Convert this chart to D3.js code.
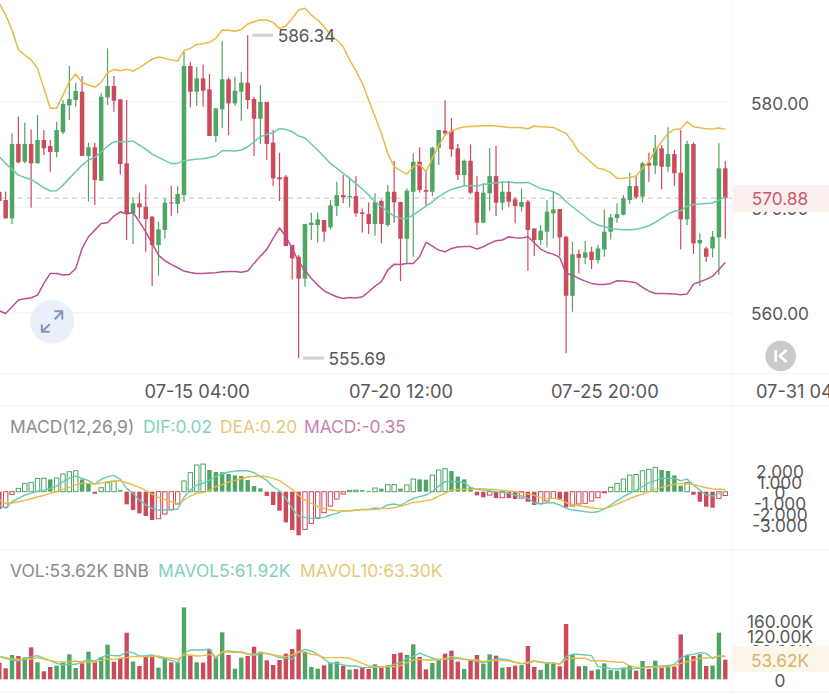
<!DOCTYPE html>
<html>
<head>
<meta charset="utf-8">
<script src="https://cdn.jsdelivr.net/npm/d3@7/dist/d3.min.js"></script>
<style>
  html, body { margin: 0; padding: 0; background: #fff; overflow: hidden; }
  svg { display: block; font-family: Inter, "Noto Sans", sans-serif; }
</style>
</head>
<body>
<svg id="chart" width="829" height="694"></svg>
<script>
// BNB/USDT 4h candles, 2024-07-10 00:00 onward
const opens = [
  571.48,570.70,568.95,576.02,574.33,576.02,574.18,576.39,575.82,575.25,
  577.12,579.68,580.19,580.98,574.87,575.70,572.53,580.44,581.52,580.25,
  574.18,569.43,570.38,570.06,569.11,566.42,567.85,570.47,570.32,571.17,
  583.42,580.98,582.24,581.20,576.77,579.30,582.15,579.87,580.98,581.83,
  580.28,578.41,580.00,576.14,572.85,572.91,566.42,565.31,563.23,568.32,
  568.32,568.80,568.10,570.12,571.17,570.95,571.07,569.52,569.36,568.42,
  570.60,568.32,571.48,570.51,567.02,571.48,574.33,571.64,571.48,575.66,
  577.28,577.25,575.60,573.07,574.42,571.48,568.54,571.33,572.97,570.44,
  571.48,570.76,570.06,570.54,568.00,566.90,567.69,569.43,569.84,567.21,
  561.61,565.57,565.22,565.79,565.00,566.01,567.69,568.99,569.30,570.70,
  572.02,571.01,574.24,573.96,575.60,573.86,575.06,573.29,568.86,576.02,
  566.58,566.10,566.10,567.15,573.70];
const highs = [
  571.48,571.48,577.03,578.60,578.03,577.40,578.76,577.34,576.39,578.13,
  580.19,583.42,581.83,582.47,576.14,576.14,580.82,585.09,582.47,580.25,
  580.19,570.95,571.39,572.18,569.18,568.64,570.86,572.05,572.02,584.78,
  583.83,583.35,583.57,582.66,579.40,585.79,582.34,582.40,582.88,586.34,
  580.50,581.61,580.00,577.34,575.19,573.07,566.42,565.47,568.42,569.49,
  569.52,568.80,570.70,572.43,573.07,572.91,572.97,569.90,570.47,571.33,
  570.76,572.12,574.39,570.54,571.80,575.13,575.70,573.54,575.76,577.34,
  580.19,578.45,576.02,574.55,575.98,572.97,572.28,575.60,575.82,572.43,
  572.53,570.95,571.80,570.70,568.00,568.32,570.70,571.48,569.84,567.28,
  566.74,566.01,566.83,566.26,566.42,569.81,569.36,570.38,571.17,573.29,
  572.91,574.33,575.19,576.87,575.92,577.60,575.44,577.34,576.33,576.17,
  567.53,566.26,567.75,576.08,574.39];
const lows = [
  570.50,568.95,568.41,574.18,574.18,569.97,574.18,574.97,573.38,574.75,
  576.96,578.29,579.55,574.87,570.54,570.22,572.53,579.71,579.08,573.13,
  566.90,566.52,568.95,565.79,562.53,563.51,567.02,569.21,569.43,570.54,
  579.49,579.65,579.55,576.77,576.17,577.50,576.87,579.62,578.22,579.33,
  574.87,576.02,574.49,572.03,570.60,566.32,563.16,555.69,562.47,566.90,
  566.67,566.74,567.91,569.17,570.38,570.00,569.11,567.62,567.47,567.31,
  566.58,568.16,568.54,563.00,564.68,565.31,571.39,570.13,571.07,574.02,
  576.77,574.81,572.59,572.02,571.26,567.37,568.48,569.68,569.18,569.75,
  570.00,568.48,569.59,563.99,565.38,566.42,566.20,567.05,565.38,556.14,
  560.09,563.73,564.62,564.15,564.68,565.31,566.96,568.54,569.24,570.32,
  570.79,570.47,572.43,573.16,571.71,573.38,572.05,566.01,568.32,565.57,
  562.53,564.84,565.25,563.57,567.05];
const closes = [
  570.60,568.95,576.02,574.27,576.02,574.18,576.39,575.60,575.25,577.34,
  579.81,580.28,581.04,574.87,575.70,572.59,580.50,581.52,580.12,574.11,
  569.43,570.38,570.00,568.89,566.42,567.91,570.44,570.38,571.26,583.42,
  580.98,582.24,581.07,576.77,579.40,582.15,579.87,581.07,581.83,580.19,
  578.41,580.00,576.02,572.75,572.66,566.32,565.15,563.23,568.42,568.54,
  568.86,567.69,570.18,571.17,570.95,571.07,569.43,569.36,568.42,570.51,
  568.42,571.48,570.47,567.02,571.58,574.33,571.64,571.48,575.66,577.34,
  577.03,575.50,573.07,574.42,571.39,568.54,571.39,572.97,570.44,571.48,
  570.54,570.12,570.51,567.85,566.90,567.78,569.59,569.81,567.15,561.61,
  565.54,565.22,565.73,565.00,566.10,567.69,569.05,569.36,570.86,572.02,
  570.95,574.18,573.96,575.60,573.86,575.06,573.23,568.86,576.02,566.58,
  566.90,565.31,567.21,573.70,570.88];

// Bollinger bands
const bollUpper = [
  589.36,588.26,586.83,584.94,584.46,583.99,583.19,581.30,579.40,579.40,
  580.66,581.93,582.66,581.86,581.61,581.42,581.86,582.78,583.10,582.97,
  583.10,582.94,583.26,583.67,584.08,584.27,584.14,583.99,583.89,584.87,
  585.09,585.47,585.53,585.66,586.04,586.83,586.80,586.71,586.89,587.40,
  587.62,587.81,587.78,587.53,586.99,587.21,587.94,588.73,588.89,588.26,
  587.78,587.15,586.36,585.88,585.25,583.99,582.97,581.77,580.19,578.60,
  577.02,575.12,573.86,573.48,573.16,573.86,574.08,573.38,574.65,575.91,
  576.86,577.24,577.49,577.65,577.68,577.72,577.75,577.78,577.72,577.65,
  577.59,577.59,577.56,577.46,577.72,577.65,577.62,577.59,577.27,577.02,
  576.23,575.28,574.80,574.23,573.70,573.60,573.29,572.75,572.75,572.84,
  572.97,573.70,574.33,575.44,576.23,577.02,577.40,577.46,578.13,577.65,
  577.56,577.46,577.43,577.53,577.40];
const bollMid = [
  574.81,574.17,573.60,573.06,572.84,572.65,572.27,571.86,571.55,571.58,
  572.11,572.75,573.38,574.01,574.49,574.74,575.28,575.82,576.23,576.23,
  576.23,576.29,575.91,575.53,575.06,574.74,574.43,574.17,574.17,574.43,
  574.49,574.58,574.61,574.74,574.87,575.37,575.37,575.34,575.44,575.75,
  576.23,576.70,576.93,577.08,577.49,577.40,577.18,576.77,576.61,576.01,
  575.44,574.81,574.17,573.70,573.22,572.75,572.27,571.74,571.17,570.53,
  570.06,569.58,569.17,568.95,568.95,569.27,569.68,570.12,570.53,571.01,
  571.39,571.70,571.89,572.02,572.08,572.02,572.18,572.27,572.30,572.40,
  572.40,572.34,572.34,572.37,572.08,571.77,571.64,571.48,571.17,570.53,
  570.06,569.58,569.11,568.63,568.32,568.16,568.00,567.91,567.87,567.87,
  567.91,568.06,568.25,568.57,568.95,569.36,569.65,569.68,570.12,570.28,
  570.31,570.37,570.41,570.69,571.01];
const bollLower = [
  560.18,559.93,560.56,561.20,561.32,561.42,561.67,562.78,563.73,563.73,
  563.57,563.63,564.20,566.10,567.21,567.84,568.47,568.54,569.17,569.58,
  569.36,569.52,568.63,567.68,566.58,565.47,564.93,564.58,564.27,563.95,
  563.82,563.73,563.73,563.76,563.79,563.89,563.92,563.92,563.85,563.95,
  564.68,565.37,566.01,567.05,568.06,567.21,566.10,564.84,564.04,563.25,
  562.62,562.08,561.77,561.51,561.35,561.45,561.39,561.51,561.99,562.52,
  562.94,564.04,564.61,564.58,564.68,564.68,565.31,566.67,566.32,565.94,
  565.78,566.10,566.23,566.29,566.29,566.04,566.26,566.58,566.83,566.90,
  567.21,567.11,567.08,567.21,566.64,566.04,565.72,565.56,565.25,563.73,
  563.57,563.25,563.00,562.78,562.68,562.68,562.78,563.03,563.00,562.94,
  562.84,562.40,562.05,561.83,561.83,561.80,561.77,561.70,561.77,562.71,
  562.94,563.16,563.47,564.11,564.77];

// MACD(12,26,9)
const macdHist = [
  -1.60,-1.45,-0.25,0.31,0.77,0.86,1.23,1.25,1.14,1.27,
  1.64,1.85,1.94,1.14,0.71,-0.19,0.37,0.83,0.96,0.15,
  -1.17,-1.70,-2.01,-2.25,-2.62,-2.50,-2.07,-1.64,-1.14,0.99,
  1.76,2.47,2.56,2.01,1.82,1.80,1.64,1.51,1.45,1.08,
  0.52,0.31,-0.40,-1.23,-1.76,-2.84,-3.55,-4.04,-3.49,-2.93,
  -2.47,-1.94,-1.33,-0.68,-0.22,0.12,0.15,0.15,0.06,0.34,
  0.28,0.65,0.66,0.28,0.62,1.17,1.14,1.11,1.54,2.01,
  2.13,1.91,1.39,1.14,0.40,-0.34,-0.52,-0.31,-0.59,-0.56,
  -0.59,-0.68,-0.59,-0.93,-1.23,-1.08,-0.86,-0.62,-0.71,-1.45,
  -1.33,-1.14,-1.08,-0.86,-0.56,-0.09,0.40,0.77,1.17,1.54,
  1.60,1.94,2.07,2.25,2.01,1.91,1.51,0.56,0.86,-0.28,
  -0.93,-1.39,-1.48,-0.62,-0.35];
const macdDif = [
  -1.23,-1.54,-0.93,-0.62,-0.31,-0.15,0.06,0.15,0.31,0.52,
  0.93,1.23,1.45,1.23,1.02,0.71,1.14,1.39,1.51,1.14,
  0.31,-0.15,-0.77,-1.23,-1.54,-1.70,-1.70,-1.70,-1.60,-0.52,
  0.15,0.62,0.77,1.08,1.39,1.64,1.82,1.91,1.94,1.94,
  1.76,1.39,1.08,0.46,0.09,-0.62,-1.54,-2.25,-2.38,-2.47,
  -2.41,-2.38,-2.16,-2.01,-1.76,-1.76,-1.70,-1.64,-1.64,-1.51,
  -1.54,-1.23,-1.14,-1.27,-0.93,-0.62,-0.46,-0.31,0.00,0.52,
  0.93,0.93,0.93,0.83,0.40,0.22,0.15,0.09,0.00,-0.09,
  -0.15,-0.31,-0.40,-0.62,-1.02,-1.14,-1.02,-1.02,-1.23,-1.54,
  -1.70,-1.76,-1.85,-1.91,-1.85,-1.60,-1.23,-0.83,-0.46,-0.15,
  0.15,0.46,0.83,1.02,1.23,1.23,1.23,1.02,1.17,0.62,
  0.15,-0.31,-0.40,-0.15,0.02];
const macdDea = [
  -0.77,-1.08,-1.05,-0.93,-0.80,-0.65,-0.49,-0.34,-0.15,0.03,
  0.22,0.40,0.65,0.77,0.77,0.71,0.80,0.93,0.99,1.02,
  0.83,0.62,0.40,0.09,-0.22,-0.52,-0.74,-0.93,-1.08,-0.77,
  -0.40,-0.15,-0.09,0.15,0.46,0.65,0.89,1.05,1.20,1.36,
  1.42,1.45,1.39,1.23,1.02,0.62,0.22,-0.34,-0.77,-1.08,
  -1.39,-1.54,-1.70,-1.76,-1.79,-1.76,-1.73,-1.67,-1.67,-1.64,
  -1.57,-1.54,-1.48,-1.36,-1.17,-0.99,-0.93,-0.83,-0.71,-0.40,
  -0.15,0.15,0.22,0.22,0.22,0.28,0.28,0.22,0.19,0.12,
  0.06,0.00,-0.09,-0.22,-0.34,-0.52,-0.62,-0.62,-0.71,-1.02,
  -1.17,-1.30,-1.39,-1.48,-1.57,-1.57,-1.39,-1.14,-0.89,-0.65,
  -0.40,-0.22,0.00,0.22,0.40,0.56,0.68,0.77,0.74,0.65,
  0.52,0.37,0.25,0.22,0.20];

// Volume, thousands of BNB
const volume = [
  45.5,30.0,66.4,63.6,60.0,87.3,46.4,21.8,33.6,37.3,
  46.4,68.2,30.9,43.6,75.4,48.2,60.0,94.5,48.2,57.3,
  127.3,48.2,36.4,63.6,63.6,31.8,59.1,46.4,45.5,196.4,
  63.6,46.4,45.5,81.8,60.0,128.2,66.4,29.1,59.1,63.6,
  89.1,75.4,51.8,39.1,52.7,70.0,82.7,136.4,73.6,33.6,
  29.1,38.2,45.5,48.2,36.4,26.4,28.2,31.8,28.2,40.9,
  31.8,38.2,69.1,72.7,66.4,95.5,60.9,27.3,44.5,52.7,
  70.0,78.2,48.2,28.2,52.7,66.4,42.7,68.2,64.5,31.8,
  33.6,37.3,39.1,90.9,33.6,25.5,43.6,42.7,35.5,150.9,
  66.4,35.5,36.4,23.6,27.3,43.6,25.5,23.6,31.8,37.3,
  23.6,50.0,28.2,50.9,31.8,39.1,34.5,122.7,66.4,63.6,
  68.2,36.4,37.3,127.3,53.62];
const mavol5 = [
  61.8,57.3,52.7,50.0,57.3,61.8,64.5,57.3,50.9,43.6,
  39.1,40.9,40.9,48.2,52.7,50.0,60.0,66.4,64.5,64.5,
  74.5,72.7,63.6,64.5,66.4,60.0,55.5,51.8,46.4,70.9,
  80.0,80.0,80.0,82.7,57.3,74.5,77.3,75.4,73.6,69.1,
  64.5,70.0,70.9,66.4,59.1,57.3,55.5,75.4,81.8,77.3,
  68.2,55.5,43.6,43.6,39.1,36.4,36.4,31.8,31.8,32.7,
  34.5,34.5,40.9,45.5,57.3,61.8,71.8,64.5,57.3,54.5,
  54.5,55.5,57.3,54.5,52.7,48.2,45.5,50.0,55.5,55.5,
  52.7,46.4,42.7,43.6,50.0,46.4,44.5,45.5,40.9,61.8,
  68.2,68.2,66.4,64.5,34.5,31.8,29.1,28.2,30.0,28.2,
  29.1,31.8,34.5,34.5,36.4,37.3,40.9,57.3,66.4,68.2,
  72.7,70.9,57.3,63.6,61.92];
const mavol10 = [
  63.6,59.1,55.5,54.5,55.5,55.5,59.1,55.5,50.9,48.2,
  46.4,48.2,50.0,46.4,46.4,46.4,51.8,55.5,54.5,57.3,
  59.1,61.8,61.8,61.8,61.8,63.6,60.0,57.3,54.5,66.4,
  66.4,63.6,64.5,68.2,60.9,74.5,75.4,72.7,75.4,69.1,
  68.2,72.7,70.9,66.4,63.6,61.8,66.4,75.4,75.4,68.2,
  66.4,59.1,59.1,59.1,59.1,57.3,50.9,43.6,36.4,34.5,
  34.5,34.5,34.5,37.3,45.5,52.7,54.5,52.7,52.7,52.7,
  57.3,61.8,59.1,55.5,52.7,52.7,48.2,51.8,50.9,50.9,
  50.0,46.4,42.7,46.4,50.0,46.4,45.5,45.5,40.9,54.5,
  57.3,57.3,57.3,50.0,50.9,50.0,48.2,46.4,46.4,36.4,
  32.7,31.8,31.8,33.6,33.6,34.5,36.4,43.6,48.2,52.7,
  57.3,58.2,59.1,63.6,63.30];

// Axis ticks
const timeTicks = ["2024-07-15T04:00Z", "2024-07-20T12:00Z", "2024-07-25T20:00Z", "2024-07-31T04:00Z"];
const priceTicks = [560, 570, 580];
const macdTicks = [2, 1, 0, -1, -2, -3];
const volumeTicks = [0, 40, 80, 120, 160];

const FOUR_HOURS = 4 * 3600 * 1000;
const firstCandle = Date.UTC(2024, 6, 10, 0, 0);
const candleTimes = opens.map((_, i) => new Date(firstCandle + i * FOUR_HOURS));

const UP = "#4fa564", DOWN = "#cb4b5d";
const TEAL = "#6bc9b1", GOLD = "#e8bb45", PURPLE = "#b9528f";
const INK = "#585858";
const PLOT_RIGHT = 732, AXIS_X = 780;
const colorOf = i => closes[i] >= opens[i] ? UP : DOWN;

const svg = d3.select("#chart");

const x = d3.scaleUtc()
  .domain([candleTimes[0], candleTimes[candleTimes.length - 1]])
  .range([-0.7, 725.3]);
const yPrice = d3.scaleLinear().domain([560, 580]).range([312.7, 102]);
const yMacd = d3.scaleLinear().domain([-3, 2]).range([524.1, 470.1]);
const yVol = d3.scaleLinear().domain([0, 160]).range([679.3, 620.7]);

svg.append("clipPath").attr("id", "plot")
  .append("rect").attr("x", 0).attr("y", 0).attr("width", PLOT_RIGHT).attr("height", 694);

// Panel frame and grid
const frame = svg.append("g").attr("stroke", "#f3f3f3").attr("stroke-width", 1);
[373.5, 406, 549.5, 692].forEach(y =>
  frame.append("line").attr("x1", 0).attr("x2", 829).attr("y1", y).attr("y2", y));
frame.append("line").attr("x1", PLOT_RIGHT).attr("x2", PLOT_RIGHT).attr("y1", 0).attr("y2", 694);
priceTicks.forEach(v =>
  frame.append("line").attr("x1", 0).attr("x2", PLOT_RIGHT)
    .attr("y1", yPrice(v)).attr("y2", yPrice(v)));

const plot = svg.append("g").attr("clip-path", "url(#plot)");

// Last price guide
plot.append("line")
  .attr("x1", 0).attr("x2", PLOT_RIGHT)
  .attr("y1", yPrice(closes[closes.length - 1])).attr("y2", yPrice(closes[closes.length - 1]))
  .attr("stroke", "#cfcfcf").attr("stroke-width", 1.2).attr("stroke-dasharray", "5,4");

// Candles
const BODY = 4.5;
const candles = plot.append("g").selectAll("g").data(opens).join("g")
  .attr("fill", (_, i) => colorOf(i)).attr("stroke", (_, i) => colorOf(i));
candles.append("line")
  .attr("x1", (_, i) => x(candleTimes[i])).attr("x2", (_, i) => x(candleTimes[i]))
  .attr("y1", (_, i) => yPrice(highs[i])).attr("y2", (_, i) => yPrice(lows[i]))
  .attr("stroke-width", 1.2);
candles.append("rect")
  .attr("stroke", "none")
  .attr("x", (_, i) => x(candleTimes[i]) - BODY / 2).attr("width", BODY)
  .attr("y", (d, i) => yPrice(Math.max(d, closes[i])))
  .attr("height", (d, i) => Math.max(1, Math.abs(yPrice(d) - yPrice(closes[i]))));

// Overlays
function drawLine(layer, values, yScale, color, width) {
  layer.append("path")
    .attr("fill", "none").attr("stroke", color).attr("stroke-width", width)
    .attr("stroke-linejoin", "round")
    .attr("d", d3.line().x((_, i) => x(candleTimes[i])).y(d => yScale(d))(values));
}
drawLine(plot, bollUpper, yPrice, GOLD, 1.5);
drawLine(plot, bollMid, yPrice, TEAL, 1.5);
drawLine(plot, bollLower, yPrice, PURPLE, 1.5);

// MACD histogram: hollow while rising, solid while falling
const histWidth = 4.4;
const histColor = d => d >= 0 ? UP : DOWN;
plot.append("g").selectAll("rect").data(macdHist).join("rect")
  .attr("x", (_, i) => x(candleTimes[i]) - histWidth / 2)
  .attr("width", histWidth)
  .attr("y", d => Math.min(yMacd(d), yMacd(0)))
  .attr("height", d => Math.max(1, Math.abs(yMacd(d) - yMacd(0))))
  .attr("fill", (d, i) => i > 0 && d > macdHist[i - 1] ? "#fff" : histColor(d))
  .attr("stroke", (d, i) => i > 0 && d > macdHist[i - 1] ? histColor(d) : "none")
  .attr("stroke-width", 1);
drawLine(plot, macdDif, yMacd, TEAL, 1.4);
drawLine(plot, macdDea, yMacd, GOLD, 1.4);

// Volume
const volWidth = 4.4;
plot.append("g").selectAll("rect").data(volume).join("rect")
  .attr("x", (_, i) => x(candleTimes[i]) - volWidth / 2)
  .attr("width", volWidth)
  .attr("y", d => yVol(d))
  .attr("height", d => yVol(0) - yVol(d))
  .attr("fill", (_, i) => colorOf(i));
drawLine(plot, mavol5, yVol, TEAL, 1.4);
drawLine(plot, mavol10, yVol, GOLD, 1.4);

// Value axes
function drawAxis(scale, ticks, format) {
  const g = svg.append("g").attr("transform", `translate(${AXIS_X},0)`)
    .call(d3.axisRight(scale).tickValues(ticks).tickFormat(format).tickSize(0).tickPadding(0));
  g.select(".domain").remove();
  g.selectAll("text")
    .attr("text-anchor", "middle")
    .attr("dy", "0.42em")
    .attr("fill", INK)
    .attr("font-family", "Inter, sans-serif")
    .attr("font-size", 17.3);
}
drawAxis(yPrice, priceTicks, d3.format(".2f"));
drawAxis(yMacd, macdTicks, v => v === 0 ? "0" : d3.format(".3f")(v).replace("\u2212", "-"));
drawAxis(yVol, volumeTicks, v => v === 0 ? "0" : d3.format(".2f")(v) + "K");

// Time axis
const timeAxis = svg.append("g").attr("transform", "translate(0,392)")
  .call(d3.axisBottom(x)
    .tickValues(timeTicks.map(d => new Date(d)))
    .tickFormat(d3.utcFormat("%m-%d %H:%M"))
    .tickSize(0).tickPadding(0));
timeAxis.select(".domain").remove();
timeAxis.selectAll("text")
  .attr("dy", "0.34em").attr("y", 0)
  .attr("fill", INK)
  .attr("font-family", "Inter, sans-serif")
  .attr("font-size", 18.3);

// Current value tags
function valueTag(y, top, bottom, bg, color, label) {
  svg.append("rect").attr("x", PLOT_RIGHT + 0.5).attr("y", top)
    .attr("width", 829 - PLOT_RIGHT).attr("height", bottom - top).attr("fill", bg);
  svg.append("text").attr("x", AXIS_X).attr("y", y).attr("dy", "0.42em")
    .attr("text-anchor", "middle").attr("font-size", 17.3).attr("fill", color).text(label);
}
const lastPrice = closes[closes.length - 1];
const lastVolume = volume[volume.length - 1];
valueTag(yPrice(lastPrice), 185, 212, "#fbf0ee", "#c95a6c", d3.format(".2f")(lastPrice));
valueTag(yVol(lastVolume), 646, 672, "#fcf5ea", "#d8b46e", d3.format(".2f")(lastVolume) + "K");

// High and low markers
function extremeMark(i, value) {
  const px = x(candleTimes[i]), py = yPrice(value);
  svg.append("line").attr("x1", px + 4.5).attr("x2", px + 25.5).attr("y1", py).attr("y2", py)
    .attr("stroke", "#d0d0d0").attr("stroke-width", 3);
  svg.append("text").attr("x", px + 30).attr("y", py).attr("dy", "0.42em")
    .attr("font-size", 17.3).attr("fill", INK).text(d3.format(".2f")(value));
}
const highIndex = d3.maxIndex(highs), lowIndex = d3.minIndex(lows);
extremeMark(highIndex, highs[highIndex]);
extremeMark(lowIndex, lows[lowIndex]);

// Legends
function legend(y, parts) {
  parts.forEach(([px, color, label]) =>
    svg.append("text").attr("x", px).attr("y", y).attr("dy", "0.38em")
      .attr("font-size", 17.4).attr("fill", color).text(label));
}
legend(426.5, [
  [10, "#8c8c8c", "MACD(12,26,9)"],
  [143, "#84d0bc", "DIF:0.02"],
  [220, "#e6c878", "DEA:0.20"],
  [304, "#c67fae", "MACD:-0.35"]
]);
legend(570.5, [
  [10, "#8c8c8c", "VOL:53.62K BNB"],
  [158, "#84d0bc", "MAVOL5:61.92K"],
  [300, "#e6c878", "MAVOL10:63.30K"]
]);

// Expand button
const expand = svg.append("g").attr("transform", "translate(52.3,321.7)");
expand.append("circle").attr("r", 22).attr("fill", "#eaf0f9");
expand.append("path")
  .attr("fill", "none").attr("stroke", "#7f95bb").attr("stroke-width", 2)
  .attr("stroke-linecap", "round").attr("stroke-linejoin", "round")
  .attr("d", "M-10.5,3.5V10H-3.5M-10.5,10L-3,3M3,-10.5H10V-3M10,-10.5L3,-3");

// Jump-to-latest button
const jump = svg.append("g").attr("transform", "translate(780.7,356)");
jump.append("circle").attr("r", 15.3).attr("fill", "#cacaca");
jump.append("path")
  .attr("fill", "none").attr("stroke", "#fff").attr("stroke-width", 2.6)
  .attr("stroke-linejoin", "round")
  .attr("d", "M-5,-6V6M6,-6L-1,0L6,6");
</script>
</body>
</html>
